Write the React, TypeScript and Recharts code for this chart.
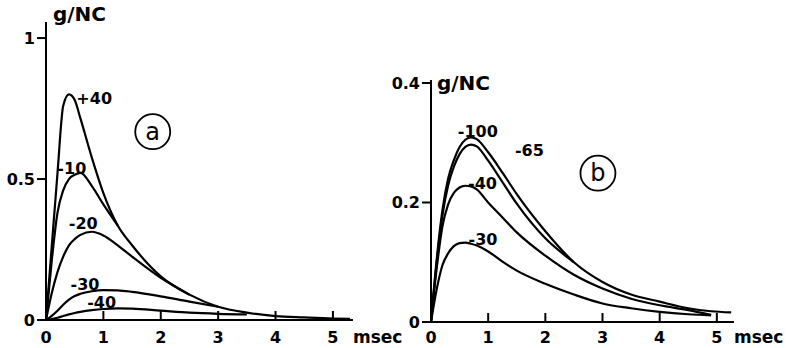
import React from "react";
import { Line, LineChart, ReferenceDot, XAxis, YAxis } from "recharts";

const FONT = "'DejaVu Sans', sans-serif";

// time after the step, msec
const timeTicks = [0, 1, 2, 3, 4, 5];

// panel (a): g/NC traces at several potentials (mV)
const timeA = [0, 0.1, 0.2, 0.3, 0.4, 0.5, 0.6, 0.8, 1.0, 1.25, 1.5, 2, 2.5, 3, 3.5, 4, 4.5, 5, 5.3];
const aPlus40 = [0, 0.26, 0.52, 0.76, 0.8, 0.78, 0.715, 0.575, 0.45, 0.335, 0.265, 0.155, 0.09, 0.047, 0.026, 0.014, 0.009, 0.005, 0.004];
const aMinus10 = [0, 0.21, 0.38, 0.46, 0.5, 0.515, 0.522, 0.475, 0.41, 0.335];
const aMinus20 = [0, 0.095, 0.17, 0.225, 0.265, 0.287, 0.302, 0.313, 0.3, 0.265, 0.225, 0.15, 0.09];
const aMinus30 = [0, 0.015, 0.033, 0.054, 0.072, 0.085, 0.093, 0.102, 0.106, 0.105, 0.1, 0.084, 0.065, 0.047];
const aMinus40 = [0, 0.003, 0.008, 0.014, 0.02, 0.025, 0.029, 0.035, 0.039, 0.041, 0.04, 0.033, 0.026, 0.022, 0.02];
const yTicksA = [0, 0.5, 1];

// panel (b)
const timeB = [0, 0.1, 0.2, 0.3, 0.4, 0.5, 0.6, 0.7, 0.8, 1.0, 1.25, 1.5, 2, 2.5, 3, 3.5, 4, 4.5, 4.9, 5.25];
const bMinus100 = [0, 0.105, 0.187, 0.24, 0.271, 0.293, 0.305, 0.309, 0.306, 0.284, 0.25, 0.214, 0.152, 0.1, 0.067, 0.046, 0.034, 0.023, 0.018, 0.016];
const bMinus65 = [0, 0.1, 0.178, 0.229, 0.26, 0.281, 0.293, 0.297, 0.294, 0.27, 0.234, 0.198, 0.14, 0.1];
const bMinus40 = [0, 0.09, 0.16, 0.197, 0.216, 0.225, 0.228, 0.227, 0.222, 0.2, 0.175, 0.15, 0.111, 0.079, 0.056, 0.039, 0.028, 0.02, 0.012];
const bMinus30 = [0, 0.055, 0.095, 0.115, 0.127, 0.132, 0.133, 0.131, 0.128, 0.118, 0.101, 0.086, 0.064, 0.046, 0.031, 0.023, 0.017, 0.013, 0.011];
const yTicksB = [0, 0.2, 0.4];

// curve labels [text, t, g]
const notesA: [string, number, number][] = [
  ["+40", 0.84, 0.786],
  ["-10", 0.45, 0.538],
  ["-20", 0.65, 0.343],
  ["-30", 0.68, 0.128],
  ["-40", 0.97, 0.061],
];
const notesB: [string, number, number][] = [
  ["-100", 0.82, 0.319],
  ["-65", 1.72, 0.288],
  ["-40", 0.9, 0.232],
  ["-30", 0.91, 0.138],
];

const buildRows = (time: number[], series: Record<string, number[]>) =>
  time.map((t, i) => {
    const row: Record<string, number | null> = { t };
    Object.keys(series).forEach((k) => {
      row[k] = series[k][i] ?? null;
    });
    return row;
  });

const rowsA = buildRows(timeA, { p40: aPlus40, m10: aMinus10, m20: aMinus20, m30: aMinus30, m40: aMinus40 });
const rowsB = buildRows(timeB, { m100: bMinus100, m65: bMinus65, m40: bMinus40, m30: bMinus30 });

const TimeTick = (props: any) => {
  const { x, y, payload, labelDy } = props;
  return (
    <g>
      <line x1={x} x2={x} y1={y} y2={y - 9} stroke="#000" strokeWidth={2} />
      <text x={x} y={y + labelDy} textAnchor="middle" fontSize={16} fontWeight="bold" fontFamily={FONT} fill="#000">
        {payload.value}
      </text>
    </g>
  );
};

type PanelProps = {
  rows: any[];
  keys: string[];
  notes: [string, number, number][];
  letter: string;
  letterAt: [number, number];
  xMax: number;
  yMax: number;
  yTicks: number[];
  top: number;
  axisH: number;
  width: number;
  right: number;
  unitDy: number;
  unitDx: number;
};

const Panel = (p: PanelProps) => {
  const labelDy = p.axisH - 5;
  return (
    <LineChart
      width={p.width}
      height={348}
      data={p.rows}
      margin={{ top: p.top, right: p.right, bottom: 0, left: 0 }}
    >
      <XAxis
        dataKey="t"
        type="number"
        domain={[0, p.xMax]}
        allowDataOverflow
        ticks={timeTicks}
        height={p.axisH}
        tickSize={0}
        tickMargin={0}
        tickLine={false}
        tick={<TimeTick labelDy={labelDy} />}
        axisLine={{ stroke: "#000", strokeWidth: 2 }}
        label={{
          content: (lp: any) => (
            <text
              x={lp.viewBox.x + lp.viewBox.width}
              y={lp.viewBox.y + labelDy}
              fontSize={17}
              fontWeight="bold"
              fontFamily={FONT}
              fill="#000"
            >
              msec
            </text>
          ),
        }}
      />
      <YAxis
        type="number"
        domain={[0, p.yMax]}
        allowDataOverflow
        ticks={p.yTicks}
        width={46}
        tickSize={9}
        tickMargin={2}
        tickLine={{ stroke: "#000", strokeWidth: 2 }}
        tick={{ fontSize: 16, fontWeight: "bold", fill: "#000", fontFamily: FONT }}
        tickFormatter={(v: number) => String(v)}
        axisLine={{ stroke: "#000", strokeWidth: 2 }}
        label={{
          content: (lp: any) => (
            <text
              x={lp.viewBox.x + lp.viewBox.width + p.unitDx}
              y={lp.viewBox.y + p.unitDy}
              fontSize={20}
              fontWeight="bold"
              fontFamily={FONT}
              fill="#000"
            >
              g/NC
            </text>
          ),
        }}
      />
      {p.keys.map((k) => (
        <Line
          key={k}
          dataKey={k}
          type="monotone"
          stroke="#000"
          strokeWidth={2.2}
          dot={false}
          connectNulls={false}
          isAnimationActive={false}
        />
      ))}
      {p.notes.map(([txt, t, g]) => (
        <ReferenceDot
          key={txt}
          x={t}
          y={g}
          r={0}
          fill="none"
          stroke="none"
          ifOverflow="visible"
          label={{ value: txt, position: "center", fontSize: 16, fontWeight: "bold", fill: "#000", fontFamily: FONT }}
        />
      ))}
      <ReferenceDot
        x={p.letterAt[0]}
        y={p.letterAt[1]}
        r={0}
        fill="none"
        stroke="none"
        ifOverflow="visible"
        label={{
          content: (lp: any) => (
            <g>
              <circle cx={lp.viewBox.x} cy={lp.viewBox.y} r={17.5} fill="none" stroke="#000" strokeWidth={1.8} />
              <text
                x={lp.viewBox.x}
                y={lp.viewBox.y + 8}
                textAnchor="middle"
                fontSize={24}
                fontFamily={FONT}
                fill="#000"
              >
                {p.letter}
              </text>
            </g>
          ),
        }}
      />
    </LineChart>
  );
};

export default function App() {
  return (
    <div style={{ position: "absolute", left: 0, top: 0, width: 787, height: 348, background: "#fff" }}>
      <div style={{ position: "absolute", left: 0, top: 0 }}>
        <Panel
          rows={rowsA}
          keys={["p40", "m10", "m20", "m30", "m40"]}
          notes={notesA}
          letter="a"
          letterAt={[1.86, 0.668]}
          xMax={5.35}
          yMax={1.057}
          yTicks={yTicksA}
          top={22}
          axisH={28}
          width={412}
          right={59}
          unitDy={-1}
          unitDx={7}
        />
      </div>
      <div style={{ position: "absolute", left: 385, top: 0 }}>
        <Panel
          rows={rowsB}
          keys={["m100", "m65", "m40", "m30"]}
          notes={notesB}
          letter="b"
          letterAt={[2.92, 0.249]}
          xMax={5.3}
          yMax={0.405}
          yTicks={yTicksB}
          top={80}
          axisH={26}
          width={402}
          right={53}
          unitDy={10}
          unitDx={6}
        />
      </div>
    </div>
  );
}
